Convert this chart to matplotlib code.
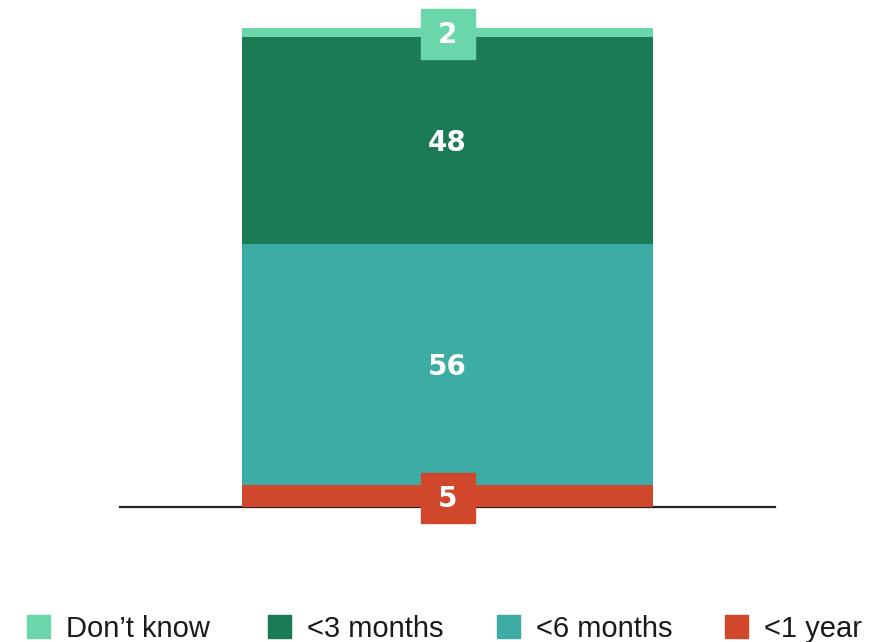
import matplotlib.pyplot as plt
from matplotlib.patches import Rectangle

# data, bottom to top
labels = ["<1 year", "<6 months", "<3 months", "Don\u2019t know"]
values = [5, 56, 48, 2]
colors = ["#D1472B", "#3DACA4", "#1A7B55", "#6AD6AA"]
legend_order = ["Don\u2019t know", "<3 months", "<6 months", "<1 year"]

W, H = 884, 642
fig = plt.figure(figsize=(W / 100, H / 100), dpi=100)
ax = fig.add_axes([120 / W, (H - 507) / H, 655 / W, 507 / H])
ax.set_xlim(-0.5, 0.5)
ax.set_ylim(0, 117.5)
ax.axis("off")

bar_w = 411 / 655
ax.axhline(0, color="#222222", lw=1.6, zorder=1, clip_on=False)

bottom = 0
for lab, v, c in zip(labels, values, colors):
    ax.bar(0, v, width=bar_w, bottom=bottom, color=c, zorder=2)
    mid = bottom + v / 2
    if v < 10:
        # small segments get a box label
        bw = 54 / 655
        bh = 50 / (507 / 117.5)
        ax.add_patch(Rectangle((-bw / 2, mid - bh / 2 - 0.4), bw, bh, color=c,
                               zorder=3, clip_on=False))
    ax.annotate(str(v), (0, mid), xytext=(0, -2), textcoords="offset points",
                ha="center", va="center", color="white",
                fontsize=20, fontweight="bold", family="DejaVu Sans", zorder=4)
    bottom += v

# legend
cmap = dict(zip(labels, colors))
sq_x = [27, 268, 497, 725]
for x, lab in zip(sq_x, legend_order):
    fig.patches.append(Rectangle((x / W, (H - 638) / H), 23 / W, 23 / H,
                                 color=cmap[lab], transform=fig.transFigure))
    fig.text((x + 39) / W, (H - 629) / H, lab, ha="left", va="center",
             fontsize=21, color="#1a1a1a", family="Liberation Sans")

fig.savefig("out.png", dpi=100)
